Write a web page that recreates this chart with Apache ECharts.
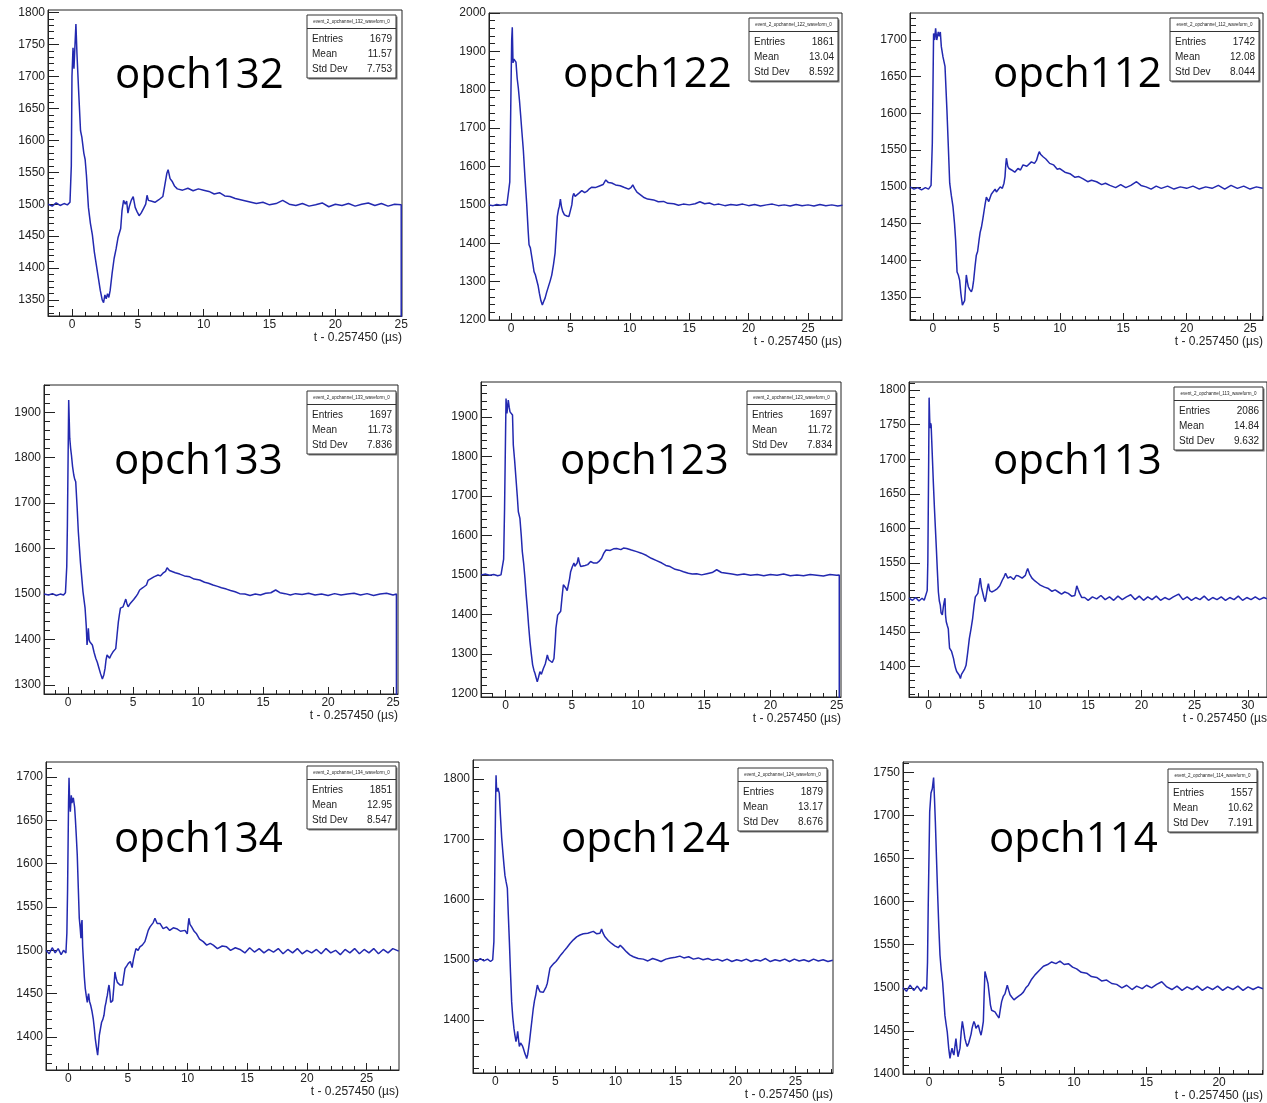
<!DOCTYPE html>
<html><head><meta charset="utf-8">
<script src="https://cdn.jsdelivr.net/npm/echarts@6/dist/echarts.min.js"></script>
<style>html,body{margin:0;padding:0;background:#fff}#c{width:1267px;height:1103px}</style>
</head><body><div id="c"></div>
<script>
// ---------------- DATA ----------------
const channelNames = ['opch132','opch122','opch112','opch133','opch123','opch113','opch134','opch124','opch114'];
const statTitles = ['event_2_opchannel_132_waveform_0','event_2_opchannel_122_waveform_0','event_2_opchannel_112_waveform_0',
  'event_2_opchannel_133_waveform_0','event_2_opchannel_123_waveform_0','event_2_opchannel_113_waveform_0',
  'event_2_opchannel_134_waveform_0','event_2_opchannel_124_waveform_0','event_2_opchannel_114_waveform_0'];
const statEntries = ['1679','1861','1742','1697','1697','2086','1851','1879','1557'];
const statMeans = ['11.57','13.04','12.08','11.73','11.72','14.84','12.95','13.17','10.62'];
const statStdDevs = ['7.753','8.592','8.044','7.836','7.834','9.632','8.547','8.676','7.191'];
const xAxisTitle = 't - 0.257450 (\u00b5s)';

const xTicks132 = [0,5,10,15,20,25];
const xTicks122 = [0,5,10,15,20,25];
const xTicks112 = [0,5,10,15,20,25];
const xTicks133 = [0,5,10,15,20,25];
const xTicks123 = [0,5,10,15,20,25];
const xTicks113 = [0,5,10,15,20,25,30];
const xTicks134 = [0,5,10,15,20,25];
const xTicks124 = [0,5,10,15,20,25];
const xTicks114 = [0,5,10,15,20];

const yTicks132 = [1350,1400,1450,1500,1550,1600,1650,1700,1750,1800];
const yTicks122 = [1200,1300,1400,1500,1600,1700,1800,1900,2000];
const yTicks112 = [1350,1400,1450,1500,1550,1600,1650,1700];
const yTicks133 = [1300,1400,1500,1600,1700,1800,1900];
const yTicks123 = [1200,1300,1400,1500,1600,1700,1800,1900];
const yTicks113 = [1400,1450,1500,1550,1600,1650,1700,1750,1800];
const yTicks134 = [1400,1450,1500,1550,1600,1650,1700];
const yTicks124 = [1400,1500,1600,1700,1800];
const yTicks114 = [1400,1450,1500,1550,1600,1650,1700,1750];

// waveforms: [t (us), ADC]
const wave132 = [[-1.8,1500],[-1.5,1497],[-1.2,1502],[-0.9,1498],[-0.6,1501],[-0.35,1499],[-0.15,1503],[-0.05,1560],[0.0,1700],[0.08,1745],[0.15,1712],[0.22,1745],[0.3,1782],[0.38,1735],[0.5,1680],[0.65,1615],[0.75,1605],[0.9,1580],[1.0,1570],[1.1,1545],[1.25,1495],[1.4,1470],[1.55,1452],[1.7,1425],[1.85,1405],[2.0,1385],[2.15,1365],[2.3,1350],[2.4,1346],[2.5,1358],[2.6,1352],[2.7,1360],[2.8,1354],[2.9,1365],[3.05,1392],[3.2,1415],[3.35,1430],[3.5,1448],[3.6,1455],[3.7,1462],[3.8,1490],[3.92,1506],[4.05,1500],[4.15,1505],[4.25,1486],[4.35,1496],[4.5,1506],[4.65,1512],[4.8,1495],[4.95,1488],[5.1,1482],[5.25,1486],[5.45,1494],[5.6,1500],[5.7,1514],[5.8,1506],[6.0,1505],[6.3,1503],[6.6,1507],[6.9,1512],[7.05,1530],[7.2,1548],[7.3,1554],[7.45,1540],[7.6,1536],[7.8,1528],[8.0,1524],[8.4,1522],[8.8,1525],[9.2,1521],[9.6,1524],[10.0,1522],[10.4,1520],[10.8,1516],[11.2,1518],[11.6,1513],[12.0,1512],[12.4,1509],[12.8,1507],[13.2,1505],[13.6,1503],[14.0,1501],[14.5,1503],[15.0,1499],[15.5,1501],[16.0,1506],[16.5,1500],[17.0,1498],[17.5,1501],[18.0,1497],[18.5,1499],[19.0,1502],[19.5,1496],[20.0,1500],[20.5,1498],[21.0,1501],[21.5,1497],[22.0,1500],[22.5,1502],[23.0,1498],[23.5,1501],[24.0,1497],[24.5,1500],[25.0,1499],[25.0,0]];
const wave122 = [[-1.85,1500],[-1.5,1498],[-1.2,1501],[-0.9,1499],[-0.6,1501],[-0.35,1499],[-0.2,1502],[-0.1,1560],[0.0,1800],[0.06,1930],[0.11,1963],[0.17,1870],[0.25,1880],[0.33,1885],[0.42,1872],[0.52,1830],[0.62,1804],[0.72,1770],[0.81,1735],[0.92,1690],[1.04,1643],[1.18,1570],[1.32,1504],[1.45,1430],[1.52,1396],[1.63,1388],[1.74,1383],[1.85,1345],[1.94,1326],[2.05,1318],[2.16,1322],[2.28,1290],[2.39,1270],[2.52,1250],[2.64,1239],[2.75,1248],[2.87,1257],[3.0,1272],[3.15,1287],[3.3,1302],[3.43,1317],[3.58,1345],[3.71,1374],[3.8,1420],[3.9,1470],[4.0,1488],[4.07,1496],[4.16,1515],[4.25,1495],[4.35,1483],[4.5,1474],[4.7,1471],[4.88,1470],[5.03,1474],[5.12,1500],[5.2,1522],[5.28,1530],[5.4,1522],[5.53,1517],[5.7,1530],[5.96,1537],[6.2,1532],[6.38,1535],[6.6,1542],[6.8,1546],[7.1,1545],[7.5,1550],[7.75,1553],[7.98,1565],[8.2,1558],[8.48,1557],[8.8,1552],[9.19,1550],[9.5,1546],[9.9,1541],[10.1,1545],[10.25,1552],[10.4,1543],[10.6,1533],[10.9,1526],[11.15,1520],[11.5,1515],[12.0,1513],[12.4,1508],[12.84,1509],[13.2,1504],[13.7,1503],[14.1,1499],[14.5,1502],[15.0,1500],[15.5,1503],[15.9,1508],[16.3,1503],[16.7,1505],[17.1,1500],[17.5,1502],[18.0,1498],[18.5,1501],[19.0,1499],[19.5,1502],[20.0,1498],[20.5,1501],[21.0,1497],[21.5,1500],[22.0,1502],[22.5,1498],[23.0,1500],[23.5,1497],[24.0,1501],[24.5,1498],[25.0,1500],[25.5,1497],[26.0,1501],[26.5,1498],[27.0,1500],[27.5,1497],[27.9,1499]];
const wave112 = [[-1.81,1500],[-1.5,1497],[-1.2,1499],[-0.9,1496],[-0.6,1499],[-0.35,1497],[-0.15,1502],[-0.05,1560],[0.05,1709],[0.13,1700],[0.21,1716],[0.3,1700],[0.42,1711],[0.5,1705],[0.58,1711],[0.66,1691],[0.79,1677],[0.95,1664],[1.1,1605],[1.2,1560],[1.32,1505],[1.45,1488],[1.58,1473],[1.7,1450],[1.79,1427],[1.9,1384],[2.0,1380],[2.1,1373],[2.2,1355],[2.32,1339],[2.42,1340],[2.5,1345],[2.56,1362],[2.63,1380],[2.72,1370],[2.79,1364],[2.9,1360],[3.03,1357],[3.12,1362],[3.21,1373],[3.32,1392],[3.42,1407],[3.52,1412],[3.63,1427],[3.72,1438],[3.82,1445],[3.92,1455],[4.0,1464],[4.1,1475],[4.21,1486],[4.3,1488],[4.4,1480],[4.47,1482],[4.6,1490],[4.74,1491],[4.9,1497],[5.0,1493],[5.13,1495],[5.3,1500],[5.47,1498],[5.6,1505],[5.68,1514],[5.74,1530],[5.79,1539],[5.9,1528],[6.0,1525],[6.2,1523],[6.45,1520],[6.7,1525],[6.9,1523],[7.1,1530],[7.4,1528],[7.76,1534],[8.0,1532],[8.16,1536],[8.3,1544],[8.38,1548],[8.5,1544],[8.68,1541],[8.9,1538],[9.2,1532],[9.5,1530],[9.8,1524],[10.0,1525],[10.4,1520],[10.8,1518],[11.2,1513],[11.5,1514],[11.84,1511],[12.2,1507],[12.5,1509],[12.9,1507],[13.3,1503],[13.6,1505],[13.95,1502],[14.4,1499],[14.8,1503],[15.2,1499],[15.6,1502],[16.05,1507],[16.4,1502],[16.8,1500],[17.2,1497],[17.6,1501],[18.0,1498],[18.5,1501],[19.0,1497],[19.5,1500],[20.0,1498],[20.5,1501],[21.0,1497],[21.5,1500],[22.0,1498],[22.5,1502],[23.0,1497],[23.5,1502],[24.0,1498],[24.5,1501],[25.0,1497],[25.5,1500],[26.0,1498]];
const wave133 = [[-1.85,1500],[-1.5,1498],[-1.2,1501],[-0.9,1497],[-0.6,1500],[-0.35,1498],[-0.2,1503],[-0.1,1560],[-0.05,1652],[0.05,1927],[0.13,1843],[0.2,1820],[0.26,1806],[0.35,1780],[0.44,1762],[0.52,1752],[0.59,1747],[0.7,1690],[0.79,1637],[0.95,1571],[1.15,1505],[1.31,1469],[1.4,1430],[1.46,1388],[1.52,1405],[1.56,1425],[1.62,1400],[1.67,1395],[1.78,1392],[1.87,1388],[2.0,1372],[2.13,1359],[2.25,1350],[2.38,1337],[2.5,1325],[2.64,1313],[2.75,1322],[2.85,1337],[2.92,1355],[3.0,1366],[3.1,1362],[3.2,1359],[3.33,1367],[3.46,1373],[3.55,1377],[3.67,1380],[3.77,1410],[3.87,1439],[3.95,1455],[4.03,1469],[4.13,1472],[4.23,1472],[4.33,1480],[4.44,1489],[4.52,1480],[4.62,1472],[4.75,1478],[4.87,1479],[5.05,1488],[5.21,1494],[5.35,1500],[5.51,1509],[5.75,1514],[6.03,1520],[6.15,1530],[6.28,1534],[6.6,1538],[6.92,1542],[7.1,1540],[7.3,1546],[7.5,1550],[7.62,1558],[7.8,1552],[7.95,1549],[8.25,1547],[8.59,1544],[8.95,1540],[9.36,1538],[9.7,1533],[10.13,1531],[10.5,1526],[10.8,1524],[11.15,1520],[11.5,1517],[11.8,1514],[12.18,1511],[12.5,1508],[12.85,1505],[13.2,1501],[13.6,1500],[14.0,1497],[14.4,1500],[14.8,1498],[15.2,1502],[15.6,1503],[15.97,1509],[16.3,1503],[16.7,1501],[17.1,1498],[17.5,1501],[18.0,1499],[18.5,1502],[19.0,1498],[19.5,1500],[20.0,1497],[20.5,1501],[21.0,1498],[21.5,1500],[22.0,1502],[22.5,1498],[23.0,1501],[23.5,1497],[24.0,1500],[24.5,1502],[25.0,1498],[25.26,1500],[25.26,0]];
const wave123 = [[-1.86,1500],[-1.5,1502],[-1.2,1499],[-0.9,1501],[-0.6,1498],[-0.35,1500],[-0.23,1499],[-0.15,1540],[-0.08,1669],[0.03,1947],[0.1,1909],[0.2,1943],[0.27,1925],[0.33,1913],[0.45,1909],[0.52,1905],[0.58,1829],[0.68,1790],[0.78,1745],[0.88,1700],[0.96,1660],[1.08,1643],[1.18,1600],[1.26,1559],[1.36,1530],[1.46,1492],[1.55,1450],[1.64,1415],[1.74,1370],[1.84,1331],[1.94,1300],[2.04,1272],[2.14,1258],[2.22,1250],[2.3,1240],[2.39,1229],[2.48,1240],[2.59,1255],[2.7,1248],[2.85,1263],[3.0,1275],[3.15,1297],[3.25,1285],[3.4,1280],[3.52,1278],[3.65,1288],[3.74,1330],[3.8,1365],[3.93,1398],[4.05,1400],[4.16,1408],[4.25,1440],[4.36,1475],[4.46,1470],[4.56,1466],[4.65,1460],[4.74,1462],[4.83,1490],[4.91,1508],[5.03,1520],[5.16,1530],[5.23,1522],[5.31,1517],[5.4,1530],[5.49,1544],[5.58,1530],[5.67,1521],[5.8,1520],[6.0,1524],[6.2,1526],[6.42,1534],[6.65,1530],[6.88,1530],[7.05,1534],[7.25,1542],[7.42,1555],[7.58,1563],[7.9,1562],[8.15,1566],[8.39,1567],[8.7,1564],[8.9,1568],[9.14,1567],[9.5,1563],[9.9,1559],[10.25,1555],[10.65,1549],[11.0,1542],[11.4,1536],[11.8,1530],[12.1,1524],[12.42,1521],[12.8,1514],[13.1,1512],[13.43,1508],[13.8,1504],[14.1,1502],[14.43,1503],[14.8,1500],[15.2,1503],[15.6,1506],[15.94,1513],[16.3,1506],[16.7,1504],[17.1,1502],[17.5,1500],[18.0,1502],[18.5,1499],[19.0,1501],[19.5,1498],[20.0,1501],[20.5,1499],[21.0,1502],[21.5,1498],[22.0,1500],[22.5,1498],[23.0,1501],[23.5,1499],[24.0,1497],[24.5,1501],[25.0,1499],[25.2,1500],[25.2,0]];
const wave113 = [[-1.83,1499],[-1.5,1496],[-1.2,1500],[-0.9,1495],[-0.6,1499],[-0.4,1496],[-0.25,1498],[-0.12,1510],[-0.06,1552],[0.02,1700],[0.06,1789],[0.11,1760],[0.15,1745],[0.2,1752],[0.25,1749],[0.31,1725],[0.37,1701],[0.46,1665],[0.56,1629],[0.65,1600],[0.74,1571],[0.83,1540],[0.93,1508],[1.02,1495],[1.11,1489],[1.18,1478],[1.24,1480],[1.3,1475],[1.42,1489],[1.48,1494],[1.55,1499],[1.6,1475],[1.67,1465],[1.76,1460],[1.86,1455],[1.92,1440],[1.98,1427],[2.07,1425],[2.17,1422],[2.26,1420],[2.35,1412],[2.45,1404],[2.54,1398],[2.65,1393],[2.76,1395],[2.88,1388],[3.0,1383],[3.1,1389],[3.22,1390],[3.38,1396],[3.53,1402],[3.68,1420],[3.84,1441],[4.0,1455],[4.15,1470],[4.28,1488],[4.4,1501],[4.52,1500],[4.64,1506],[4.75,1518],[4.86,1528],[4.97,1515],[5.08,1508],[5.2,1500],[5.33,1494],[5.45,1505],[5.55,1515],[5.63,1520],[5.75,1510],[5.94,1508],[6.2,1510],[6.47,1513],[6.7,1517],[6.93,1525],[7.1,1530],[7.24,1535],[7.45,1528],[7.71,1530],[8.0,1526],[8.25,1532],[8.48,1531],[8.8,1528],[9.1,1532],[9.22,1538],[9.32,1542],[9.5,1534],[9.72,1528],[10.0,1524],[10.25,1521],[10.5,1518],[10.9,1515],[11.27,1513],[11.6,1509],[11.9,1511],[12.2,1508],[12.5,1505],[12.8,1508],[13.13,1506],[13.45,1502],[13.75,1503],[13.93,1517],[14.05,1512],[14.2,1506],[14.4,1500],[14.67,1500],[15.0,1496],[15.4,1501],[15.8,1498],[16.2,1503],[16.6,1497],[17.0,1501],[17.4,1496],[17.8,1502],[18.2,1497],[18.6,1501],[19.0,1504],[19.4,1497],[19.8,1502],[20.2,1496],[20.6,1501],[21.0,1497],[21.4,1502],[21.8,1496],[22.2,1500],[22.6,1497],[23.0,1501],[23.5,1505],[23.9,1497],[24.3,1501],[24.7,1496],[25.1,1500],[25.5,1497],[25.9,1502],[26.3,1496],[26.7,1500],[27.1,1497],[27.5,1501],[27.9,1496],[28.3,1500],[28.7,1497],[29.1,1502],[29.5,1496],[29.9,1500],[30.3,1497],[30.7,1501],[31.1,1497],[31.5,1500],[31.8,1498]];
const wave134 = [[-1.87,1500],[-1.6,1496],[-1.35,1503],[-1.1,1497],[-0.85,1502],[-0.6,1495],[-0.4,1500],[-0.2,1497],[-0.12,1520],[-0.06,1571],[0.02,1670],[0.06,1699],[0.11,1672],[0.17,1660],[0.25,1679],[0.3,1670],[0.36,1668],[0.42,1676],[0.47,1677],[0.53,1665],[0.59,1652],[0.67,1632],[0.75,1610],[0.83,1575],[0.92,1537],[1.0,1525],[1.06,1514],[1.1,1530],[1.15,1535],[1.2,1505],[1.26,1490],[1.34,1470],[1.42,1456],[1.5,1448],[1.59,1440],[1.65,1446],[1.7,1450],[1.78,1441],[1.87,1437],[1.98,1430],[2.09,1421],[2.18,1410],[2.26,1398],[2.36,1388],[2.46,1379],[2.53,1390],[2.6,1402],[2.7,1410],[2.79,1417],[2.89,1420],[2.99,1425],[3.08,1435],[3.16,1440],[3.22,1445],[3.27,1448],[3.34,1455],[3.41,1460],[3.48,1452],[3.55,1440],[3.63,1438],[3.72,1442],[3.82,1458],[3.91,1475],[4.0,1468],[4.11,1463],[4.22,1461],[4.33,1460],[4.45,1462],[4.55,1460],[4.65,1470],[4.75,1479],[4.9,1482],[5.03,1485],[5.2,1487],[5.35,1480],[5.45,1489],[5.55,1495],[5.67,1502],[5.85,1500],[6.0,1504],[6.2,1506],[6.42,1510],[6.55,1516],[6.7,1523],[6.85,1527],[6.98,1529],[7.12,1532],[7.26,1537],[7.45,1531],[7.68,1531],[7.95,1525],[8.24,1527],[8.5,1523],[8.8,1526],[9.08,1525],[9.4,1522],[9.78,1523],[9.97,1519],[10.05,1530],[10.11,1537],[10.2,1530],[10.34,1527],[10.55,1522],[10.75,1519],[11.0,1513],[11.31,1510],[11.6,1506],[11.9,1508],[12.15,1506],[12.5,1502],[12.9,1505],[13.27,1504],[13.6,1500],[14.0,1503],[14.39,1501],[14.8,1497],[15.2,1503],[15.6,1498],[16.0,1502],[16.4,1497],[16.8,1501],[17.2,1498],[17.6,1502],[18.0,1496],[18.4,1501],[18.8,1497],[19.2,1502],[19.6,1496],[20.0,1500],[20.4,1497],[20.8,1501],[21.2,1496],[21.6,1502],[22.0,1497],[22.4,1500],[22.8,1495],[23.2,1501],[23.6,1497],[24.0,1502],[24.4,1496],[24.8,1501],[25.2,1497],[25.6,1502],[26.0,1496],[26.4,1501],[26.8,1497],[27.2,1502],[27.7,1499]];
const wave124 = [[-1.86,1500],[-1.55,1497],[-1.25,1502],[-0.95,1498],[-0.65,1501],[-0.4,1497],[-0.22,1500],[-0.12,1530],[-0.06,1619],[0.02,1760],[0.06,1806],[0.1,1785],[0.14,1779],[0.22,1785],[0.28,1780],[0.33,1776],[0.42,1740],[0.53,1702],[0.62,1680],[0.72,1657],[0.8,1640],[0.89,1630],[1.0,1619],[1.08,1575],[1.17,1530],[1.26,1480],[1.36,1430],[1.45,1405],[1.55,1386],[1.63,1375],[1.72,1364],[1.8,1372],[1.86,1381],[1.93,1368],[2.0,1356],[2.1,1362],[2.19,1361],[2.26,1357],[2.33,1353],[2.45,1345],[2.55,1340],[2.61,1336],[2.69,1342],[2.77,1353],[2.85,1365],[2.94,1381],[3.05,1400],[3.16,1419],[3.26,1432],[3.36,1441],[3.43,1450],[3.5,1458],[3.6,1452],[3.72,1447],[3.85,1449],[4.0,1446],[4.13,1447],[4.23,1455],[4.33,1461],[4.45,1475],[4.55,1486],[4.7,1490],[4.88,1494],[5.05,1497],[5.24,1502],[5.45,1508],[5.66,1513],[5.95,1520],[6.22,1527],[6.5,1533],[6.77,1538],[7.05,1541],[7.33,1543],[7.7,1544],[8.16,1547],[8.45,1543],[8.71,1544],[8.85,1551],[8.95,1545],[9.13,1538],[9.4,1532],[9.68,1527],[9.95,1523],[10.24,1520],[10.4,1524],[10.52,1524],[10.7,1518],[10.93,1513],[11.2,1508],[11.49,1505],[11.9,1502],[12.32,1501],[12.7,1498],[13.1,1502],[13.43,1500],[13.8,1497],[14.2,1501],[14.6,1503],[15.0,1504],[15.37,1506],[15.7,1503],[16.1,1505],[16.5,1501],[16.9,1503],[17.3,1500],[17.7,1502],[18.1,1499],[18.5,1501],[18.9,1498],[19.3,1501],[19.7,1497],[20.1,1500],[20.5,1498],[20.9,1501],[21.3,1497],[21.7,1500],[22.1,1498],[22.5,1502],[22.9,1497],[23.3,1500],[23.7,1498],[24.1,1501],[24.5,1497],[24.9,1501],[25.3,1498],[25.7,1500],[26.1,1497],[26.5,1501],[26.9,1498],[27.3,1500],[27.7,1497],[28.1,1499]];
const wave114 = [[-1.79,1500],[-1.55,1496],[-1.3,1503],[-1.05,1497],[-0.8,1502],[-0.55,1496],[-0.35,1501],[-0.16,1498],[-0.1,1530],[-0.05,1596],[0.05,1704],[0.14,1726],[0.23,1731],[0.28,1738],[0.32,1744],[0.38,1720],[0.44,1693],[0.52,1650],[0.6,1608],[0.68,1570],[0.76,1538],[0.85,1520],[0.94,1507],[1.02,1488],[1.1,1468],[1.18,1458],[1.26,1449],[1.36,1430],[1.45,1418],[1.52,1425],[1.59,1430],[1.65,1425],[1.72,1422],[1.79,1432],[1.86,1441],[1.93,1430],[2.0,1420],[2.07,1425],[2.14,1430],[2.22,1448],[2.3,1461],[2.39,1452],[2.48,1441],[2.56,1436],[2.64,1432],[2.74,1436],[2.83,1438],[2.9,1446],[2.97,1453],[3.03,1457],[3.1,1461],[3.17,1458],[3.24,1453],[3.32,1455],[3.4,1457],[3.5,1450],[3.59,1445],[3.67,1452],[3.75,1461],[3.8,1490],[3.86,1519],[3.92,1520],[3.98,1517],[4.07,1505],[4.16,1492],[4.24,1480],[4.32,1474],[4.44,1476],[4.55,1472],[4.7,1468],[4.83,1465],[4.92,1475],[5.01,1484],[5.12,1490],[5.24,1493],[5.32,1498],[5.4,1503],[5.5,1497],[5.59,1492],[5.72,1489],[5.86,1486],[6.0,1488],[6.16,1490],[6.33,1492],[6.51,1495],[6.68,1500],[6.85,1503],[7.08,1510],[7.31,1515],[7.6,1520],[7.89,1525],[8.18,1527],[8.46,1530],[8.75,1528],[9.03,1531],[9.32,1527],[9.61,1528],[9.9,1524],[10.18,1522],[10.5,1518],[10.87,1517],[11.2,1513],[11.56,1512],[11.9,1508],[12.25,1509],[12.6,1505],[12.94,1504],[13.3,1500],[13.63,1503],[14.0,1498],[14.32,1502],[14.7,1499],[15.0,1503],[15.35,1500],[15.7,1504],[16.05,1507],[16.4,1501],[16.75,1498],[17.1,1502],[17.45,1497],[17.8,1501],[18.15,1498],[18.5,1502],[18.85,1497],[19.2,1501],[19.55,1498],[19.9,1502],[20.25,1497],[20.6,1501],[20.95,1498],[21.3,1502],[21.65,1497],[22.0,1501],[22.35,1498],[22.7,1501],[23.03,1499]];

const waves = [wave132,wave122,wave112,wave133,wave123,wave113,wave134,wave124,wave114];
const xTickSets = [xTicks132,xTicks122,xTicks112,xTicks133,xTicks123,xTicks113,xTicks134,xTicks124,xTicks114];
const yTickSets = [yTicks132,yTicks122,yTicks112,yTicks133,yTicks123,yTicks113,yTicks134,yTicks124,yTicks114];

// ---------------- LAYOUT (positions / ranges) ----------------
const layout = [
  {left:48,  top:10,  width:354, height:306, xr:[-1.82,25.06], yr:[1325,1804],     yMinor:10, box:[307,15],   lab:[115,88]},
  {left:489, top:13,  width:353, height:307, xr:[-1.85,27.86], yr:[1200,2000],     yMinor:20, box:[749,18],   lab:[563,87]},
  {left:910, top:13,  width:353, height:307, xr:[-1.81,26.02], yr:[1318.7,1736.8], yMinor:10, box:[1170,18],  lab:[993,87]},
  {left:44,  top:385, width:354, height:309, xr:[-1.85,25.38], yr:[1280.2,1960],   yMinor:20, box:[307,391],  lab:[114,474]},
  {left:481, top:382, width:360, height:315, xr:[-1.86,25.33], yr:[1190.6,1988.7], yMinor:20, box:[747,391],  lab:[560,474]},
  {left:909, top:382, width:362, height:315, xr:[-1.83,31.8],  yr:[1356.2,1811.6], yMinor:10, box:[1174,387], lab:[993,474]},
  {left:46,  top:762, width:353, height:308, xr:[-1.87,27.72], yr:[1361.9,1717.3], yMinor:10, box:[307,766],  lab:[114,852]},
  {left:473, top:760, width:360, height:313, xr:[-1.86,28.12], yr:[1312,1831.5],   yMinor:20, box:[738,768],  lab:[561,852]},
  {left:903, top:762, width:360, height:312, xr:[-1.79,23.03], yr:[1400,1762],     yMinor:10, box:[1168,769], lab:[989,852]}
];

const AXIS_FONT = '"Liberation Sans", Arial, Helvetica, sans-serif';
const LINE_COLOR = '#2329b0';
const FRAME = '#222';
const plain = v => String(Math.round(v * 1000) / 1000);

function stepTicks(lo, hi, step) {
  const out = [];
  let v = Math.ceil(lo / step - 1e-9) * step;
  for (; v <= hi + 1e-9; v += step) out.push(+v.toFixed(6));
  return out;
}

const grids = [], xAxes = [], yAxes = [], series = [], graphics = [];

layout.forEach((L, i) => {
  grids.push({left:L.left, top:L.top, width:L.width, height:L.height, show:true,
    borderColor:FRAME, borderWidth:1, backgroundColor:'#fff', containLabel:false});
  const xMinor = stepTicks(L.xr[0], L.xr[1], 1);
  const yMinor = stepTicks(L.yr[0], L.yr[1], L.yMinor);
  xAxes.push({gridIndex:i, type:'value', position:'bottom', min:L.xr[0], max:L.xr[1],
    axisLine:{show:true, onZero:false, lineStyle:{color:FRAME, width:1}},
    axisTick:{show:true, inside:true, length:7, customValues:xTickSets[i], lineStyle:{color:FRAME, width:1}},
    axisLabel:{show:true, customValues:xTickSets[i], formatter:plain, margin:3, fontSize:12, color:'#222', fontFamily:AXIS_FONT, hideOverlap:false},
    splitLine:{show:false}});
  xAxes.push({gridIndex:i, type:'value', position:'bottom', min:L.xr[0], max:L.xr[1],
    axisLine:{show:false, onZero:false},
    axisTick:{show:true, inside:true, length:4, customValues:xMinor, lineStyle:{color:FRAME, width:1}},
    axisLabel:{show:false}, splitLine:{show:false}});
  yAxes.push({gridIndex:i, type:'value', position:'left', min:L.yr[0], max:L.yr[1],
    axisLine:{show:true, onZero:false, lineStyle:{color:FRAME, width:1}},
    axisTick:{show:true, inside:true, length:11, customValues:yTickSets[i], lineStyle:{color:FRAME, width:1}},
    axisLabel:{show:true, customValues:yTickSets[i], formatter:plain, margin:3, fontSize:12, color:'#222', fontFamily:AXIS_FONT, hideOverlap:false},
    splitLine:{show:false}});
  yAxes.push({gridIndex:i, type:'value', position:'left', min:L.yr[0], max:L.yr[1],
    axisLine:{show:false, onZero:false},
    axisTick:{show:true, inside:true, length:6, customValues:yMinor, lineStyle:{color:FRAME, width:1}},
    axisLabel:{show:false}, splitLine:{show:false}});

  series.push({type:'line', name:channelNames[i], xAxisIndex:2*i, yAxisIndex:2*i, data:waves[i],
    showSymbol:false, symbol:'none', smooth:false, clip:true, animation:false,
    lineStyle:{color:LINE_COLOR, width:1.5}});

  graphics.push({type:'text', z:100, style:{text:channelNames[i], x:L.lab[0], y:L.lab[1]-12,
    font:'42px "Open Sans", sans-serif', fill:'#000', textAlign:'left', textVerticalAlign:'middle'}});

  graphics.push({type:'text', z:100, style:{text:xAxisTitle, x:L.left+L.width, y:L.top+L.height+21.5,
    font:'12px ' + AXIS_FONT, fill:'#222', textAlign:'right', textVerticalAlign:'middle'}});

  const bx = L.box[0], by = L.box[1], bw = 89, bh = 63;
  graphics.push({type:'rect', z:99, shape:{x:bx+1.5, y:by+1.5, width:bw, height:bh}, style:{fill:'#777'}});
  graphics.push({type:'rect', z:100, shape:{x:bx, y:by, width:bw, height:bh}, style:{fill:'#fff', stroke:'#333', lineWidth:1}});
  graphics.push({type:'line', z:101, shape:{x1:bx, y1:by+13.5, x2:bx+bw, y2:by+13.5}, style:{stroke:'#333', lineWidth:1}});
  graphics.push({type:'text', z:101, style:{text:statTitles[i], x:bx+bw/2, y:by+7,
    font:'4.5px ' + AXIS_FONT, fill:'#222', textAlign:'center', textVerticalAlign:'middle'}});
  const rows = [['Entries', statEntries[i]], ['Mean', statMeans[i]], ['Std Dev', statStdDevs[i]]];
  rows.forEach((r, k) => {
    const yy = by + 24.5 + 15 * k;
    graphics.push({type:'text', z:101, style:{text:r[0], x:bx+5, y:yy, font:'10px ' + AXIS_FONT, fill:'#222', textAlign:'left', textVerticalAlign:'middle'}});
    graphics.push({type:'text', z:101, style:{text:r[1], x:bx+bw-4, y:yy, font:'10px ' + AXIS_FONT, fill:'#222', textAlign:'right', textVerticalAlign:'middle'}});
  });
});

const chart = echarts.init(document.getElementById('c'), null, {renderer:'canvas', width:1267, height:1103});
chart.setOption({
  animation:false,
  backgroundColor:'#fff',
  grid:grids, xAxis:xAxes, yAxis:yAxes, series:series,
  graphic:{elements:graphics}
});
</script></body></html>
